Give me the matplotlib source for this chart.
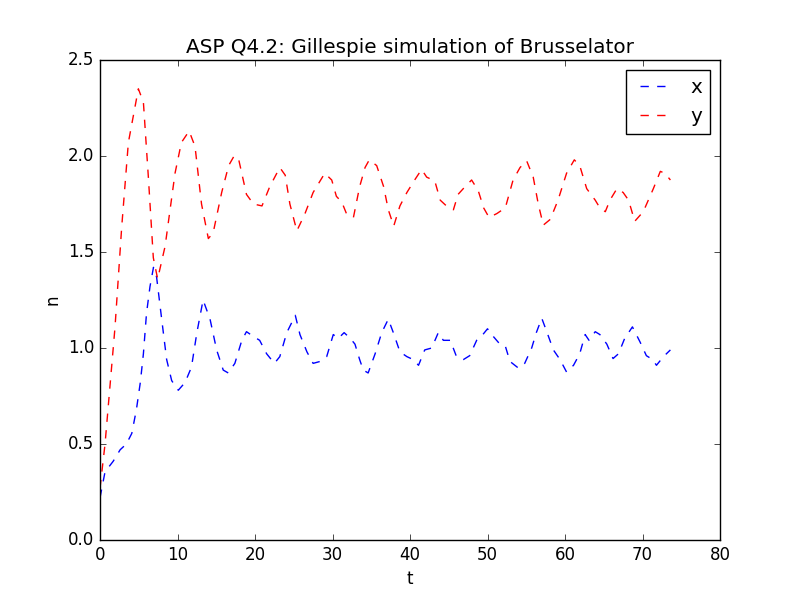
import matplotlib
matplotlib.use("Agg")
import matplotlib.pyplot as plt

# x species (blue)
t_x = [0.0, 0.65, 1.7, 2.6, 3.4, 4.1, 4.7, 5.2, 5.6, 6.0, 6.45, 6.9, 7.3, 7.96, 8.6, 9.25,
       10.1, 10.97, 11.8, 12.5, 13.3, 14.2, 15.05, 15.9, 16.55, 17.4, 18.3, 18.9, 19.8, 20.6,
       21.5, 22.5, 23.2, 24.1, 25.2, 25.8, 26.7, 27.5, 28.4, 29.25, 30.1, 30.75, 31.5, 32.3,
       32.9, 33.5, 33.97, 34.6, 35.5, 36.35, 37.2, 37.85, 38.7, 39.6, 40.4, 41.1, 41.9, 42.8,
       43.65, 44.3, 45.2, 46.0, 46.9, 47.7, 48.6, 49.4, 50.0, 50.75, 51.6, 52.3, 52.9, 54.0,
       54.8, 55.7, 56.3, 57.0, 57.6, 58.5, 59.35, 60.2, 61.1, 61.9, 62.6, 63.1, 63.9, 64.5,
       65.4, 66.2, 66.9, 67.7, 68.7, 69.7, 70.5, 71.3, 71.8, 72.7, 73.6]
n_x = [0.22, 0.355, 0.41, 0.47, 0.50, 0.555, 0.68, 0.82, 0.97, 1.18, 1.32, 1.42, 1.37, 1.15, 0.94, 0.83,
       0.78, 0.82, 0.90, 1.08, 1.25, 1.15, 0.99, 0.885, 0.87, 0.92, 1.04, 1.085, 1.06, 1.04,
       0.97, 0.92, 0.955, 1.08, 1.17, 1.07, 0.98, 0.92, 0.93, 0.955, 1.07, 1.05, 1.08, 1.05,
       1.02, 0.94, 0.885, 0.87, 0.97, 1.08, 1.15, 1.08, 0.98, 0.955, 0.94, 0.91, 0.99, 1.00,
       1.08, 1.04, 1.04, 0.955, 0.94, 0.96, 1.04, 1.07, 1.10, 1.06, 1.02, 1.01, 0.93, 0.895,
       0.92, 1.00, 1.08, 1.155, 1.09, 0.99, 0.94, 0.875, 0.91, 0.97, 1.07, 1.04, 1.085, 1.07,
       1.02, 0.945, 0.97, 1.05, 1.11, 1.03, 0.96, 0.94, 0.91, 0.955, 0.99]

# y species (red)
t_y = [0.0, 0.65, 1.94, 2.8, 3.66, 4.95, 5.6, 6.24, 6.88, 7.44, 8.4, 9.68, 10.5, 11.5, 12.26,
       13.1, 13.98, 14.6, 15.7, 16.6, 17.3, 17.85, 18.9, 19.8, 20.9, 21.9, 23.2, 23.9, 24.5,
       25.4, 26.45, 27.5, 29.0, 29.9, 30.5, 31.2, 31.8, 32.7, 33.5, 34.2, 34.75, 35.7, 36.6,
       37.2, 37.9, 38.7, 39.6, 40.6, 41.5, 42.15, 43.2, 43.9, 44.7, 45.6, 46.2, 47.1, 47.95,
       48.8, 49.5, 50.2, 51.2, 52.3, 53.3, 54.2, 55.05, 55.9, 56.55, 57.2, 58.1, 59.1, 60.2,
       61.2, 61.9, 62.8, 63.9, 64.5, 65.2, 65.8, 66.7, 67.5, 68.2, 69.0, 70.1, 71.4, 72.3,
       72.9, 73.6]
n_y = [0.27, 0.50, 1.11, 1.63, 2.07, 2.35, 2.28, 1.89, 1.47, 1.36, 1.53, 1.91, 2.07, 2.13, 2.05,
       1.75, 1.57, 1.60, 1.81, 1.95, 2.00, 1.99, 1.80, 1.75, 1.74, 1.84, 1.94, 1.90, 1.75,
       1.61, 1.70, 1.81, 1.91, 1.875, 1.79, 1.76, 1.70, 1.68, 1.84, 1.94, 1.98, 1.95, 1.84,
       1.72, 1.635, 1.74, 1.81, 1.875, 1.93, 1.89, 1.87, 1.77, 1.74, 1.72, 1.80, 1.84, 1.875,
       1.82, 1.73, 1.68, 1.70, 1.73, 1.875, 1.94, 1.975, 1.89, 1.75, 1.64, 1.67, 1.77, 1.91,
       1.98, 1.95, 1.83, 1.77, 1.73, 1.71, 1.77, 1.83, 1.81, 1.77, 1.66, 1.71, 1.83, 1.92,
       1.91, 1.875]

plt.style.use('classic')
fig, ax = plt.subplots(figsize=(8, 6), dpi=100)
fig.patch.set_facecolor('white')
ax.plot(t_x, n_x, 'b--', label='x')
ax.plot(t_y, n_y, 'r--', label='y')
ax.set_xlim(0, 80)
ax.set_ylim(0, 2.5)
ax.set_xlabel('t')
ax.set_ylabel('n')
ax.set_title('ASP Q4.2: Gillespie simulation of Brusselator')
ax.legend(loc='upper right')
fig.savefig('out.png', dpi=100, facecolor='white')
